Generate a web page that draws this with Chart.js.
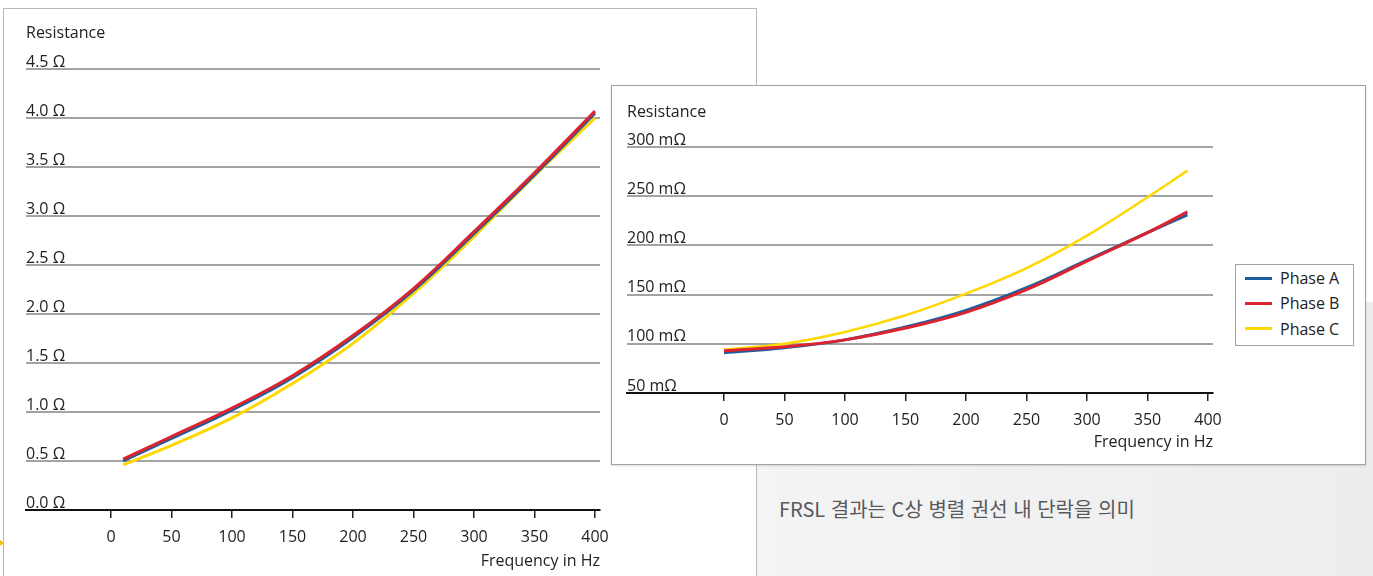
<!DOCTYPE html>
<html lang="ko">
<head>
<meta charset="UTF-8">
<title>FRSL - Resistance</title>
<script src="https://cdn.jsdelivr.net/npm/chart.js"></script>
<style>
  body { margin: 0; width: 1373px; height: 576px; overflow: hidden; background: #fff; position: relative; font-family: 'Open Sans', sans-serif; }
  .fundo { position: absolute; left: 757px; top: 302px; width: 616px; height: 274px; background: linear-gradient(90deg, #f4f4f5, #ecedee); }
  .painel1 { position: absolute; left: 3px; top: 8px; width: 752px; height: 620px; border: 1.5px solid #b8b8b8; background: #fff; }
  .painel2 { position: absolute; left: 611px; top: 85px; width: 753px; height: 378px; border: 1px solid #a2a2a2; background: #fff; box-shadow: 0 1px 2px rgba(0,0,0,0.15); }
  #graficoEsq { position: absolute; left: 0; top: 0; }
  #graficoDir { position: absolute; left: 611px; top: 85px; }
  .legenda { position: absolute; left: 1235px; top: 264px; width: 117px; height: 80px; border: 1px solid #a2a2a2; background: #fff; }
  .legenda div { height: 26px; line-height: 26px; font-size: 16px; color: #222; position: relative; padding-left: 44px; }
  .legenda div:nth-child(2) { height: 25px; line-height: 25px; }
  .legenda span { position: absolute; left: 9px; top: 12px; width: 27px; height: 3px; }
  .legenda div:nth-child(2) span, .legenda div:nth-child(3) span { top: 11px; }
  .texto { position: absolute; left: 779px; top: 494px; font-family: 'Noto Sans CJK KR', sans-serif; font-size: 20px; color: #58595b; }
  .marca { position: absolute; left: 0; top: 540px; width: 0; height: 0; border-top: 3px solid transparent; border-bottom: 3px solid transparent; border-left: 4px solid #f5c400; }
</style>
</head>
<body>
  <div class="painel1"></div>
  <canvas id="graficoEsq" width="757" height="576"></canvas>
  <div class="marca"></div>
  <div class="fundo"></div>
  <div class="painel2"></div>
  <canvas id="graficoDir" width="755" height="380"></canvas>
  <div class="legenda" id="legenda"></div>
  <div class="texto">FRSL 결과는 C상 병렬 권선 내 단락을 의미</div>
<script>
  // nomes e cores das fases
  const nomesFases = ['Phase A', 'Phase B', 'Phase C'];
  const coresFases = ['#1d5e9e', '#dc2330', '#ffd800'];

  // grafico da esquerda (ohm)
  const freqEsq = [10, 50, 100, 150, 200, 250, 300, 350, 400];
  const faseAEsq = [0.50, 0.73, 1.02, 1.35, 1.76, 2.24, 2.82, 3.42, 4.05];
  const faseBEsq = [0.52, 0.75, 1.04, 1.37, 1.78, 2.26, 2.84, 3.44, 4.07];
  const faseCEsq = [0.46, 0.66, 0.94, 1.29, 1.70, 2.21, 2.79, 3.41, 4.00];
  const ticksXEsq = [0, 50, 100, 150, 200, 250, 300, 350, 400];
  const ticksYEsq = [0, 0.5, 1.0, 1.5, 2.0, 2.5, 3.0, 3.5, 4.0, 4.5];

  // grafico da direita (miliohm)
  const freqDir = [0, 50, 100, 150, 200, 250, 300, 350, 383];
  const faseADir = [91, 96, 104, 117, 134, 157, 185, 213, 231];
  const faseBDir = [93, 97, 104, 116, 132, 155, 184, 213, 234];
  const faseCDir = [94, 100, 112, 129, 151, 177, 210, 249, 276];
  const ticksXDir = [0, 50, 100, 150, 200, 250, 300, 350, 400];
  const ticksYDir = [50, 100, 150, 200, 250, 300];

  Chart.defaults.font.family = "'Open Sans', sans-serif";
  Chart.defaults.font.size = 16;
  Chart.defaults.color = '#222';

  function montaGrafico(id, freq, fases, cfg) {
    const ordem = [1, 0, 2]; // vermelho por cima, amarelo por baixo
    const conjuntos = fases.map((serie, i) => ({
      label: nomesFases[i],
      data: freq.map((f, k) => ({ x: f, y: serie[k] })),
      borderColor: coresFases[i],
      backgroundColor: coresFases[i],
      borderWidth: cfg.espessura[i],
      pointRadius: 0,
      tension: 0.4,
      order: ordem[i]
    }));
    const ctx = document.getElementById(id).getContext('2d');
    return new Chart(ctx, {
      type: 'line',
      data: { datasets: conjuntos },
      options: {
        responsive: false,
        animation: false,
        devicePixelRatio: 1,
        layout: { padding: cfg.padding },
        plugins: {
          legend: { display: false },
          tooltip: { enabled: false },
          title: {
            display: true, text: 'Resistance', align: 'start', color: '#222',
            font: { size: 16, weight: 'normal' },
            padding: { top: 0, bottom: cfg.tituloY }
          }
        },
        scales: {
          x: {
            type: 'linear', min: cfg.xMin, max: cfg.xMax,
            afterBuildTicks: s => { s.ticks = cfg.ticksX.map(v => ({ value: v })); },
            afterFit: s => { s.height = 66; },
            grid: { drawOnChartArea: false, drawTicks: true, tickLength: 8, color: '#222', lineWidth: 1.5 },
            border: { color: '#111', width: 2 },
            ticks: { color: '#222', padding: 9.4, maxRotation: 0, autoSkip: false },
            title: {
              display: true, text: 'Frequency in Hz', align: 'end', color: '#222',
              font: { size: 16 }, padding: { top: 0, bottom: cfg.tituloX }
            }
          },
          y: {
            min: cfg.yMin, max: cfg.yMax,
            afterBuildTicks: s => { s.ticks = cfg.ticksY.map(v => ({ value: v })); },
            grid: { color: '#a3a3a3', lineWidth: 2, drawTicks: false },
            border: { display: false },
            ticks: { mirror: true, padding: 0, labelOffset: -7, color: '#222', callback: cfg.rotulo }
          }
        }
      }
    });
  }

  const graficoEsq = montaGrafico('graficoEsq', freqEsq, [faseAEsq, faseBEsq, faseCEsq], {
    espessura: [3, 3, 3],
    padding: { left: 26, right: 157, top: 23.4, bottom: 0 },
    tituloY: 26.4,
    xMin: -70.25, xMax: 404.13, ticksX: ticksXEsq,
    yMin: 0, yMax: 4.5, ticksY: ticksYEsq,
    tituloX: 5.4,
    rotulo: v => v.toFixed(1) + ' Ω'
  });

  const graficoDir = montaGrafico('graficoDir', freqDir, [faseADir, faseBDir, faseCDir], {
    espessura: [3, 3, 2.5],
    padding: { left: 16, right: 153, top: 17.4, bottom: 6 },
    tituloY: 25.4,
    xMin: -80.17, xMax: 404.13, ticksX: ticksXDir,
    yMin: 50, yMax: 300, ticksY: ticksYDir,
    tituloX: 7.4,
    rotulo: v => v + ' mΩ'
  });

  // legenda em html a partir dos itens do proprio Chart.js
  const legenda = document.getElementById('legenda');
  const itens = Chart.defaults.plugins.legend.labels.generateLabels(graficoDir)
    .sort((a, b) => a.datasetIndex - b.datasetIndex);
  itens.forEach(item => {
    const linha = document.createElement('div');
    const traco = document.createElement('span');
    traco.style.background = item.strokeStyle;
    linha.appendChild(traco);
    linha.appendChild(document.createTextNode(item.text));
    legenda.appendChild(linha);
  });
</script>
</body>
</html>
